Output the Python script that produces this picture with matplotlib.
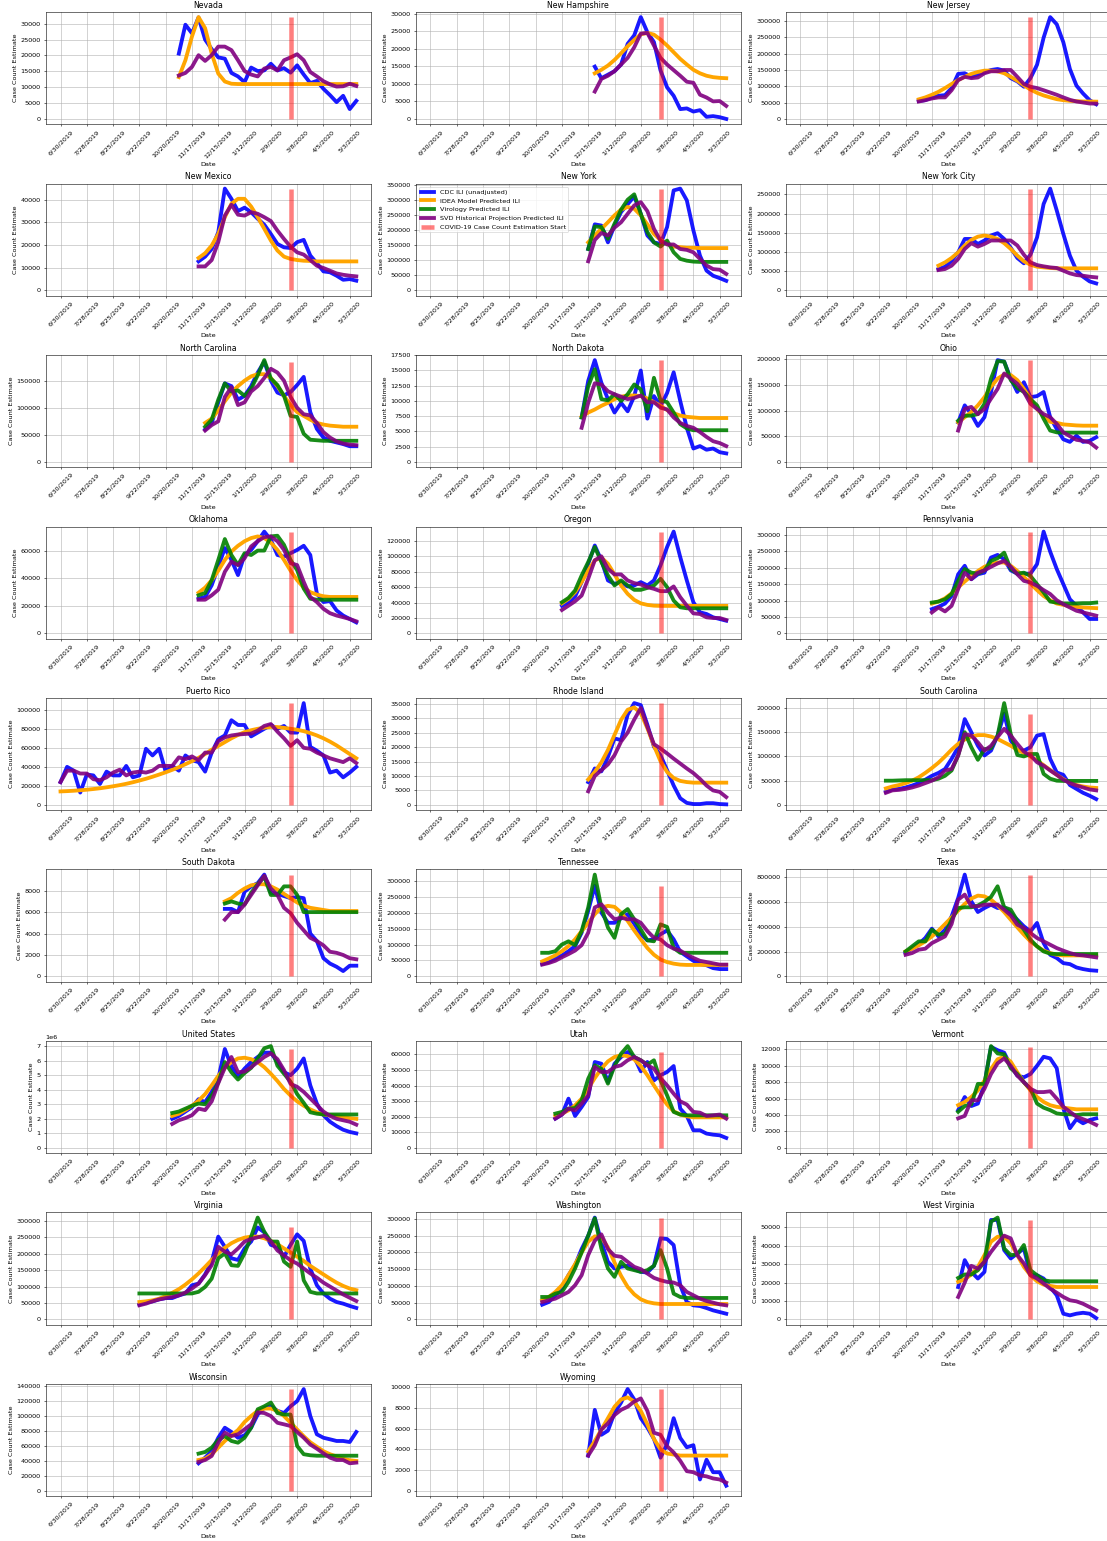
import matplotlib.pyplot as plt
import numpy as np

# weekly index: 0 = 6/30/2019 ... 45 = 5/10/2020
TICK_WEEKS = list(range(0, 45, 4))
TICK_LABELS = ['6/30/2019', '7/28/2019', '8/25/2019', '9/22/2019', '10/20/2019',
               '11/17/2019', '12/15/2019', '1/12/2020', '2/9/2020', '3/8/2020',
               '4/5/2020', '5/3/2020']
COVID_START_WEEK = 35  # 3/1/2020
LAST_WEEK = 45

STATES = ['Nevada', 'New Hampshire', 'New Jersey', 'New Mexico', 'New York',
          'New York City', 'North Carolina', 'North Dakota', 'Ohio', 'Oklahoma',
          'Oregon', 'Pennsylvania', 'Puerto Rico', 'Rhode Island', 'South Carolina',
          'South Dakota', 'Tennessee', 'Texas', 'United States', 'Utah', 'Vermont',
          'Virginia', 'Washington', 'West Virginia', 'Wisconsin', 'Wyoming']

# first week with data for each region
START = {
    'Nevada': 18, 'New Hampshire': 25, 'New Jersey': 18, 'New Mexico': 21,
    'New York': 24, 'New York City': 21, 'North Carolina': 22, 'North Dakota': 23,
    'Ohio': 24, 'Oklahoma': 21, 'Oregon': 20, 'Pennsylvania': 20, 'Puerto Rico': 0,
    'Rhode Island': 24, 'South Carolina': 13, 'South Dakota': 25, 'Tennessee': 17,
    'Texas': 16, 'United States': 17, 'Utah': 19, 'Vermont': 24, 'Virginia': 12,
    'Washington': 17, 'West Virginia': 24, 'Wisconsin': 21, 'Wyoming': 24,
}

# all values in thousands of cases
CDC = {
    'Nevada': [20.6, 29.7, 27, 32, 25, 22, 19.4, 19, 14.5, 13.4, 11.6, 16.2, 15.1, 15.3, 17.4, 15.3,
               16, 14.6, 16.9, 14, 11.3, 12, 9.5, 7.5, 5.3, 7.3, 3.1, 5.7],
    'New Hampshire': [14.9, 11.6, 12.6, 13.6, 15.5, 21.4, 23.8, 29, 24.7, 21.9, 13.8, 9, 6.6, 2.8,
                      3, 2.1, 2.5, 0.6, 0.8, 0.5, 0],
    'New Jersey': [55, 57.5, 66, 71, 73, 94.5, 138, 140, 129, 136, 143, 150, 153, 148, 125, 115,
                   98.7, 125, 166, 249, 312, 290, 235, 153, 102, 78, 57.5, 45],
    'New Mexico': [12.8, 14.9, 18.3, 25.7, 44.9, 40.4, 35, 36.5, 34.5, 31.6, 29, 24.9, 20.5, 19,
                   18.7, 21.3, 22.3, 15.4, 12, 8.4, 8, 6.5, 4.7, 5, 4.3],
    'New York': [138, 220, 216, 160, 216, 261, 287, 313, 255, 183, 160, 155, 211, 333, 339, 300,
                 200, 116, 66, 49, 41, 32],
    'New York City': [55.7, 61.8, 77.5, 99, 134, 134, 121, 130, 143, 149, 134, 111, 84.5, 70.6, 93,
                      138, 225, 265, 208, 147, 90.6, 51.4, 35.7, 23.5, 18.3],
    'North Carolina': [60, 72, 110, 145, 140, 115, 122, 140, 165, 185, 150, 128, 123, 129, 142, 157,
                       92, 61, 45, 39, 36, 33, 29, 29],
    'North Dakota': [7.3, 13.3, 16.7, 13, 10.3, 8.1, 9.7, 8.3, 10.8, 15, 7.1, 10.8, 9.2, 11.3, 14.7,
                     10, 5.6, 2.2, 2.6, 2, 2.2, 1.6, 1.4],
    'Ohio': [77, 110, 93, 70, 87, 136, 198, 195, 162, 136, 155, 126, 128, 136, 87, 64, 44, 39, 51,
             39, 41, 48],
    'Oklahoma': [25.2, 26.5, 35, 48.5, 62, 53.4, 42.4, 57, 60.7, 67, 74, 68, 57, 55.8, 58.3, 60.7,
                 63.7, 57, 29, 22.8, 23.5, 16.7, 13, 10.5, 8],
    'Oregon': [36, 40.4, 47.8, 66.5, 90.4, 114, 94.8, 68.7, 64.3, 66.5, 60.9, 62.2, 66.5, 62.2, 68.7,
               88.3, 112, 132, 99, 68.7, 40.4, 27.4, 25.2, 20.9, 18.7, 16.5],
    'Pennsylvania': [74, 81, 91, 114, 180, 206, 165, 180, 185, 231, 239, 226, 192, 182, 182, 182,
                     211, 310, 249, 196, 150, 104, 84, 64, 44, 44],
    'Puerto Rico': [24, 40, 36, 13, 32, 31, 22, 35, 31, 31, 41, 29, 31, 59, 52, 59, 35, 41, 36, 52,
                    47, 45, 35, 55, 69, 73, 89, 84, 84, 72, 76, 80, 84, 80, 83, 76, 76, 107, 61, 57,
                    52, 34, 36, 29, 34, 40],
    'Rhode Island': [7.9, 12.6, 11.6, 16.6, 23, 22.4, 31.2, 35.2, 34.5, 27.7, 20.1, 17.2, 12, 6.7,
                     2.3, 0.7, 0.3, 0.3, 0.6, 0.6, 0.3, 0.2],
    'South Carolina': [27, 32, 33, 36, 40, 45, 52, 60, 66, 74, 95, 119, 177, 150, 122, 102, 112, 143,
                       188, 133, 112, 112, 119, 143, 146, 95, 67, 62, 41, 33, 25, 19, 12],
    'South Dakota': [6.3, 6.3, 6.0, 7.9, 8.4, 8.7, 9.5, 7.8, 7.7, 7.5, 7.3, 7.4, 7.3, 4.0, 3.3, 1.7,
                     1.2, 0.9, 0.5, 1.0, 1.0],
    'Tennessee': [39, 45, 56, 66, 79, 95, 137, 205, 284, 200, 168, 168, 182, 195, 165, 132, 113, 116,
                  132, 144, 116, 77, 63, 49, 39, 35, 26, 23, 23],
    'Texas': [188, 228, 260, 309, 384, 322, 376, 483, 631, 819, 604, 518, 550, 577, 550, 556, 510,
              456, 403, 362, 430, 268, 174, 148, 107, 99, 72, 59, 50, 46],
    'United States': [2000, 2200, 2500, 2800, 3350, 3150, 3850, 4750, 6800, 5600, 4900, 5450, 5900,
                      6250, 6550, 6550, 5900, 5200, 5000, 5450, 6150, 4300, 3050, 2250, 1800, 1500,
                      1250, 1100, 1000],
    'Utah': [18.8, 21.4, 31.6, 20.5, 26.3, 32.7, 55.1, 54, 42.3, 54, 58.3, 61.5, 58.3, 49.1, 55.1,
             43.3, 46.6, 48.7, 52.5, 25.2, 20.5, 11.3, 11.3, 9.2, 8.5, 8.1, 6.4],
    'Vermont': [4.6, 6.2, 5.1, 5.4, 7.8, 12.3, 11.9, 11.6, 10, 8.8, 8.6, 9, 10, 11.1, 10.9, 9.7, 4.8,
                2.4, 3.5, 3, 3.4, 3.6],
    'Virginia': [45, 51, 55, 61, 65, 65, 73, 79, 104, 109, 137, 176, 252, 221, 186, 181, 216, 237,
                 280, 265, 227, 221, 191, 227, 259, 239, 155, 104, 79, 63, 53, 48, 41, 35],
    'Washington': [44, 52, 72, 92, 132, 162, 210, 250, 304, 232, 172, 152, 157, 160, 150, 142, 140,
                   160, 242, 240, 222, 102, 52, 42, 40, 34, 27, 22, 17],
    'West Virginia': [17.6, 32.2, 25.8, 22.2, 25.8, 54, 54, 37.6, 33.1, 35.8, 38.5, 24, 24, 22.2,
                      17.6, 13.1, 3.1, 2.2, 3.1, 3.6, 3.1, 0.7],
    'Wisconsin': [36.9, 44.4, 53.3, 71, 84.4, 78.7, 71, 74.2, 84.4, 102, 111, 113, 107, 104, 113, 120,
                  136, 100, 75.6, 71, 68.9, 66.7, 66.7, 65.3, 78.7],
    'Wyoming': [3.4, 7.8, 5.4, 5.8, 7.5, 8.5, 9.8, 8.8, 7, 6.1, 5, 3.2, 4.5, 7, 5.1, 4.2, 4.4, 1.1,
                3, 1.8, 1.8, 0.5],
}

IDEA = {
    'Nevada': [13.2, 18.5, 26, 32.1, 28.6, 20.6, 14.3, 11.8, 11.1] + [11.0] * 19,
    'New Hampshire': [13, 14, 15.2, 16.8, 18.7, 20.7, 22.5, 24.1, 24.5, 24, 22.6, 20.9, 19, 17.1,
                      15.5, 14, 13, 12.3, 11.9, 11.7, 11.6],
    'New Jersey': [60, 66, 74, 83, 94.5, 107, 119, 129, 138, 144, 148, 148, 146, 140, 129, 117, 103,
                   90, 80, 72, 66, 60.6, 57.5, 55.5, 54.5, 53.4, 53.4, 53],
    'New Mexico': [14.3, 16.4, 19.8, 24.9, 32.3, 38.2, 40.4, 40.4, 37, 32.3, 27.2, 22, 17.6, 14.9,
                   13.9, 13.4, 13.1, 13] + [12.8] * 7,
    'New York': [160, 183, 205, 227, 250, 269, 278, 272, 250, 220, 188, 168, 155, 146, 144, 142,
                 142] + [141] * 5,
    'New York City': [64.5, 73, 84.5, 99, 117, 131.5, 140, 143, 140, 134, 123, 108, 90.6, 75.8, 67,
                      61.8, 60, 58.4] + [57.5] * 7,
    'North Carolina': [72, 80, 95, 112, 128, 140, 150, 158, 162, 162, 155, 140, 122, 105, 92, 85, 78,
                       72, 69, 67, 66, 65, 65, 65],
    'North Dakota': [7.4, 8.1, 8.6, 9.2, 9.7, 10.3, 10.7, 10.9, 10.9, 10.8, 10.4, 9.8, 9.2, 8.5, 8,
                     7.6, 7.4, 7.3] + [7.2] * 5,
    'Ohio': [77, 87, 97, 110, 126, 146, 162, 170, 169, 159, 142, 123, 103, 89, 78, 76, 73, 72, 71,
             70.5, 70.5, 70.5],
    'Oklahoma': [29.6, 33.3, 38.7, 45.6, 53.4, 59.5, 63.7, 67, 69.3, 70.5, 69.3, 66, 60.7, 53.4, 45.6,
                 38.7, 33.3, 30, 28.2, 27] + [26.5] * 5,
    'Oregon': [39, 44.8, 53.5, 66.5, 81.7, 94.8, 98.3, 90.4, 76.5, 62.2, 51.3, 43.5, 39, 37,
               36] + [35.7] * 11,
    'Pennsylvania': [91, 97, 107, 122, 140, 158, 175, 190, 203, 211, 216, 216, 206, 190, 172, 152,
                     132, 114, 101, 91, 87, 83, 81, 79, 78, 77],
    'Puerto Rico': [14.2, 14.5, 14.9, 15.4, 16, 16.7, 17.5, 18.5, 19.6, 20.8, 22.2, 23.8, 25.6, 27.5,
                    29.6, 31.9, 34.3, 36.9, 39.6, 42.8, 46, 49.5, 53.5, 58, 62, 66, 70, 73.5, 76.5,
                    78.5, 80, 81.2, 82, 81.8, 81, 80, 79, 77.5, 75.5, 73, 70, 66.5, 62.5, 58, 53.5,
                    49],
    'Rhode Island': [8.8, 11.4, 14.7, 19, 24.2, 29.4, 32.9, 33.7, 31.7, 26.5, 20.5, 15.1, 11.4, 9.3,
                     8.3, 7.9] + [7.7] * 6,
    'South Carolina': [34, 38, 41, 45, 50, 57, 66, 76, 87, 100, 114, 126, 135, 141, 144, 144, 141,
                       136, 129, 122, 114, 107, 100, 92, 82, 72, 62, 53, 46, 41, 38, 36, 35],
    'South Dakota': [7, 7.3, 7.8, 8.2, 8.5, 8.6, 8.6, 8.4, 8.1, 7.7, 7.3, 6.9, 6.6, 6.4, 6.3,
                     6.2] + [6.1] * 5,
    'Tennessee': [47, 56, 66, 79, 95, 116, 142, 168, 195, 216, 221, 218, 200, 174, 144, 116, 89, 68,
                  53, 45, 40, 37] + [36] * 7,
    'Texas': [201, 223, 250, 282, 322, 368, 421, 475, 529, 583, 626, 650, 644, 617, 572, 518, 456,
              395, 336, 282, 242, 207, 188, 174] + [169] * 6,
    'United States': [2200, 2350, 2600, 2900, 3250, 3700, 4300, 4950, 5500, 5900, 6150, 6200, 6100,
                      5900, 5550, 5100, 4600, 4050, 3600, 3200, 2900, 2650, 2450, 2300, 2250, 2200,
                      2100, 2050, 2000],
    'Utah': [20.5, 22, 24.1, 27.3, 31.6, 38, 44.8, 50.8, 55.5, 58.3, 59.4, 58.9, 56.8, 52.5, 46.6,
             40.1, 33.7, 27.8, 23.5, 21.4, 20.3] + [19.6] * 6,
    'Vermont': [5.2, 5.6, 6.2, 7, 8.2, 9.6, 10.8, 11.1, 10.5, 9.2, 8, 7, 6.2, 5.6, 5.2, 5, 4.9, 4.8,
                4.7, 4.7, 4.7, 4.7],
    'Virginia': [53, 55, 58, 63, 71, 81, 92, 106, 122, 140, 160, 181, 201, 218, 232, 242, 249, 252,
                 252, 247, 239, 229, 216, 204, 191, 178, 163, 150, 137, 124, 112, 102, 94, 89],
    'Washington': [57, 67, 82, 102, 132, 165, 200, 232, 248, 245, 215, 170, 130, 97, 75, 60, 52,
                   48] + [46] * 11,
    'West Virginia': [20.4, 21.8, 24.4, 28.5, 34.9, 42.2, 44.9, 44.9, 41.3, 34.9, 28.5, 24, 20.7,
                      18.9, 18.2] + [17.6] * 7,
    'Wisconsin': [41.3, 43.1, 48.9, 57.8, 66.7, 74.2, 81.3, 92, 100, 107, 110, 110, 107, 100, 91, 82,
                  73, 65, 59, 53, 49, 46, 43, 41, 40],
    'Wyoming': [3.8, 4.8, 5.9, 7, 8.1, 8.8, 9, 8.6, 7.7, 6.4, 5, 4, 3.6, 3.5] + [3.4] * 8,
}

VIROLOGY = {
    'New York': [138, 213, 211, 172, 222, 269, 302, 320, 255, 194, 160, 146, 166, 127, 105, 99,
                 96] + [95] * 5,
    'North Carolina': [65, 78, 115, 145, 130, 132, 122, 135, 160, 188, 154, 142, 122, 85, 83, 52,
                       41, 40] + [39] * 6,
    'North Dakota': [7.3, 12.4, 15.2, 10.3, 10.1, 11.1, 10, 11.1, 12.7, 11.9, 8.3, 13.8, 10.1, 9.8,
                     8.1, 6.2, 5.5] + [5.2] * 6,
    'Ohio': [80, 90, 90, 93, 113, 162, 196, 195, 159, 144, 136, 122, 110, 84, 61, 57.5] + [57] * 6,
    'Oklahoma': [27.7, 29.4, 38.7, 53.4, 68.6, 57, 49.7, 58.3, 57, 60.2, 60.2, 70.5, 71, 64.4, 53.4,
                 46, 32.6, 25.2] + [24.5] * 7,
    'Oregon': [40.4, 46, 55.7, 75.2, 92.6, 112, 92.6, 75.2, 62.2, 68.7, 62.2, 56.5, 56.5, 59, 62.2,
               70.9, 60, 42.6, 33.9] + [32.6] * 7,
    'Pennsylvania': [94, 97, 104, 120, 160, 196, 185, 182, 192, 221, 229, 246, 196, 182, 185, 175,
                     150, 125, 97, 94, 91, 91, 91, 92, 92, 94],
    'South Carolina': [50, 50, 50.5, 51, 51, 51, 51, 51, 54, 60, 71, 102, 150, 119, 93, 115, 117,
                       143, 210, 146, 103, 100, 105, 105, 64, 54, 50] + [49.5] * 6,
    'South Dakota': [6.8, 7, 6.8, 6.7, 7.8, 8.6, 9.3, 7.6, 7.6, 8.4, 8.4, 7.6, 6, 6] + [6] * 7,
    'Tennessee': [74, 74, 79, 100, 110, 98, 142, 216, 319, 216, 153, 121, 195, 211, 179, 147, 113,
                  110, 163, 155, 89, 74] + [74] * 7,
    'Texas': [201, 242, 282, 282, 376, 336, 341, 456, 550, 556, 556, 570, 600, 640, 725, 556, 537,
              448, 376, 295, 242, 201, 183] + [180] * 7,
    'United States': [2400, 2500, 2700, 2900, 3050, 3000, 3600, 4500, 5900, 5200, 4700, 5150, 5500,
                      6150, 6850, 7000, 5650, 5100, 4550, 3700, 3100, 2450, 2350] + [2300] * 6,
    'Utah': [22, 23.1, 25.2, 25.6, 30.5, 44.4, 53, 50.8, 41.2, 52.5, 60.4, 65.3, 58.3, 56.2, 53.4,
             56.2, 43.3, 33.7, 23.1, 21.4] + [20.9] * 7,
    'Vermont': [4.4, 5.1, 5.3, 7.8, 7.8, 12.4, 11.5, 11.4, 9.7, 9, 8, 7.2, 5.4, 4.9, 4.6, 4.2, 4.1,
                4.1, 4, 4.1, 4.1, 4.1],
    'Virginia': [79] * 9 + [84, 99, 124, 186, 201, 165, 163, 201, 252, 310, 267, 237, 237, 176, 160,
                            237, 119, 84] + [79] * 7,
    'Washington': [67, 67, 77, 82, 112, 152, 200, 250, 302, 212, 152, 127, 172, 152, 147, 142, 147,
                   160, 207, 152, 77, 67] + [64] * 7,
    'West Virginia': [22.5, 24.4, 24.4, 26.7, 31.3, 53.1, 55.3, 38.5, 34.9, 35.3, 40.4, 26.7, 24,
                      21.3] + [20.7] * 8,
    'Wisconsin': [49.8, 52, 57.8, 68, 73.3, 66.7, 64.4, 71, 84.4, 109, 113, 118, 104, 102, 102, 60,
                  49, 47.6] + [47] * 7,
}

SVD = {
    'Nevada': [13.7, 14.5, 16.4, 20.1, 18.3, 20.1, 22.8, 22.8, 21.7, 18.5, 15.1, 14, 13.4, 15.9, 16.4,
               15.3, 18.5, 19.4, 20.4, 18.5, 14.8, 13.4, 11.9, 10.9, 10.2, 10.3, 11.1, 10.4],
    'New Hampshire': [7.8, 11.4, 12.3, 13.6, 15.5, 17.4, 20.4, 24.3, 24.5, 20.9, 17.4, 15.5, 13.9,
                      12.3, 10.6, 10.3, 6.9, 6.1, 5, 5.1, 3.7],
    'New Jersey': [53.4, 57.5, 62.7, 66, 66, 88, 119, 129, 125, 127, 140, 146, 146, 150, 150, 129,
                   107, 98.7, 94.5, 88, 81, 74, 66, 58.6, 53.4, 50.4, 47.3, 47],
    'New Mexico': [10.6, 10.6, 13.4, 21.3, 33, 37.8, 33.4, 33, 34.5, 33.8, 32.3, 30.6, 26.4, 22.7,
                   19.3, 16.8, 15.8, 13.4, 10.9, 9.9, 8.7, 7.5, 6.9, 6.5, 6.2],
    'New York': [97, 168, 191, 183, 209, 227, 255, 283, 294, 264, 205, 166, 153, 153, 138, 135, 127,
                 105, 83, 71, 69, 55],
    'New York City': [53, 55.7, 64.5, 82, 108, 123, 114, 121, 130, 130, 130, 130, 117, 93, 73, 66,
                      62.7, 60, 58.4, 51.4, 44.4, 40, 38.3, 35.7, 34],
    'North Carolina': [58, 68, 75, 120, 138, 105, 110, 130, 140, 155, 172, 165, 150, 120, 100, 88,
                       86, 72, 55, 45, 38, 34, 32, 31],
    'North Dakota': [5.6, 9.7, 12.9, 12.7, 11.6, 11.1, 10.7, 10.3, 10.5, 10.9, 9.8, 9.8, 8.9, 8.6,
                     7.3, 6.4, 5.9, 5.6, 4.9, 4.1, 3.4, 3.1, 2.6],
    'Ohio': [61, 103, 107, 93, 103, 123, 142, 172, 162, 152, 136, 113, 103, 93, 87, 74, 57.5, 50, 43,
             41, 38, 28],
    'Oklahoma': [24.5, 24.5, 27.7, 31.8, 44.8, 52.2, 49.7, 54.6, 63.2, 67, 70, 70.5, 67, 60.7, 51,
                 49.7, 37.5, 26.5, 22.8, 17.9, 14.7, 13, 11.8, 10.5, 8.8],
    'Oregon': [30.4, 36, 41.7, 49.1, 70.9, 94.8, 100, 83.9, 76.5, 76.5, 68.7, 65.2, 63.5, 60, 57.8,
               54.8, 54.8, 60.9, 47, 36, 26, 25.2, 20.9, 20, 20, 17.4],
    'Pennsylvania': [64, 79, 67, 84, 135, 185, 165, 185, 192, 203, 213, 221, 203, 180, 160, 155, 145,
                     132, 120, 101, 89, 79, 69, 64, 59, 54],
    'Puerto Rico': [24, 36, 36, 33, 33, 27, 26, 29, 34, 37, 31, 34, 35, 34, 36, 41, 41, 41, 50, 48,
                    51, 47, 55, 55, 67, 71, 73, 74, 74.5, 75, 78, 83, 85, 77, 70, 62, 68, 60, 59, 55,
                    52, 49, 47, 45, 49, 44],
    'Rhode Island': [4.7, 10, 12, 14, 17.2, 21.9, 25, 29.5, 33.5, 27, 21, 19.5, 17.8, 16, 14.3, 12.6,
                     11, 9, 6.7, 5, 4.5, 2.7],
    'South Carolina': [25, 30, 31, 33, 36, 40, 45, 50, 57, 71, 74, 102, 146, 143, 129, 112, 122, 140,
                       157, 143, 126, 110, 102, 88, 81, 71, 62, 52, 45, 40, 36, 32, 30],
    'South Dakota': [5.3, 6, 6, 6.7, 7.6, 8.5, 9.4, 8.2, 7.6, 6.4, 5.9, 5, 4.3, 3.6, 3.3, 2.9, 2.3,
                     2.2, 2, 1.7, 1.6],
    'Tennessee': [37, 42, 49, 60, 70, 81, 98, 137, 216, 226, 200, 179, 184, 179, 179, 168, 142, 121,
                  116, 98, 87, 81, 68, 58, 49, 45, 41, 37, 37],
    'Texas': [174, 188, 215, 223, 268, 295, 322, 421, 617, 658, 564, 564, 577, 577, 577, 537, 491,
              416, 389, 349, 309, 282, 255, 228, 207, 188, 174, 169, 161, 153],
    'United States': [1650, 1900, 2050, 2250, 2700, 2600, 3200, 4450, 5500, 6250, 5200, 5250, 5550,
                      5900, 6250, 6500, 6100, 5350, 4400, 4200, 3850, 3400, 2950, 2500, 2200, 2000,
                      1900, 1800, 1600],
    'Utah': [18.8, 21.4, 25.2, 24.1, 28.4, 33.7, 51.9, 48.7, 48.7, 51.9, 53, 56.2, 58.3, 56.2, 53,
             50.8, 44.8, 40.1, 34.8, 29.9, 27.8, 23.1, 22.6, 20.5, 20.9, 21.4, 18.8],
    'Vermont': [3.6, 3.9, 5.8, 5.8, 7.2, 9, 10.3, 10.9, 10, 8.8, 8, 7.2, 6.8, 6.8, 6.9, 6, 5, 4.4,
                3.8, 3.5, 3.2, 2.8],
    'Virginia': [43, 48, 55, 61, 65, 68, 73, 82, 94, 109, 135, 165, 221, 206, 198, 216, 237, 245, 250,
                 255, 237, 210, 195, 180, 170, 155, 140, 127, 112, 100, 88, 76, 66, 56],
    'Washington': [52, 57, 62, 72, 82, 102, 132, 192, 235, 254, 210, 190, 187, 172, 157, 150, 137,
                   124, 117, 112, 110, 102, 82, 72, 62, 55, 50, 45, 42],
    'West Virginia': [12.2, 20, 29.1, 27.6, 31.3, 36.7, 41.3, 45.5, 44, 34.9, 30.4, 24, 22.2, 19.5,
                      16.7, 14.5, 12.2, 10.4, 9.8, 8.5, 6.7, 4.9],
    'Wisconsin': [38.7, 41.3, 46.7, 64.4, 77.8, 73.3, 75.6, 82.2, 88.9, 105, 104, 100, 91, 88.9, 86.7,
                  78.7, 71, 62, 56.4, 50.2, 44.4, 41.3, 41.3, 36.9, 37.8],
    'Wyoming': [3.4, 4.4, 5.9, 6.5, 7.3, 7.8, 8.1, 8.6, 8.9, 7.7, 5.6, 5.4, 4.3, 3.7, 2.9, 1.9, 1.8,
                1.5, 1.4, 1.2, 1.1, 0.8],
}

LW = 5.5
plt.rcParams['font.size'] = 9.3

fig, axes = plt.subplots(9, 3, figsize=(1107 / 50, 1541 / 50), dpi=50)
fig.subplots_adjust(left=0.0413, right=1.0036, top=0.9922, bottom=0.0292,
                    wspace=0.137, hspace=0.531)
axes = axes.ravel()

for ax, state in zip(axes, STATES):
    weeks = np.arange(START[state], LAST_WEEK + 1)
    cdc = np.array(CDC[state]) * 1000
    ax.plot(weeks, cdc, color='blue', lw=LW, alpha=0.9, label='CDC ILI (unadjusted)')
    ax.plot(weeks, np.array(IDEA[state]) * 1000, color='orange', lw=LW,
            label='IDEA Model Predicted ILI')
    if state in VIROLOGY:
        ax.plot(weeks, np.array(VIROLOGY[state]) * 1000, color='green', lw=LW, alpha=0.9,
                label='Virology Predicted ILI')
    ax.plot(weeks, np.array(SVD[state]) * 1000, color='purple', lw=LW, alpha=0.9,
            label='SVD Historical Projection Predicted ILI')
    ax.vlines(COVID_START_WEEK, 0, cdc.max(), colors='red', lw=6.5, alpha=0.5,
              label='COVID-19 Case Count Estimation Start')

    ax.set_xlim(-2.25, LAST_WEEK + 2.25)
    ax.set_xticks(TICK_WEEKS)
    ax.set_xticklabels(TICK_LABELS, rotation=45)
    ax.set_title(state)
    ax.set_xlabel('Date')
    ax.set_ylabel('Case Count Estimate')
    ax.grid(True)
    if state == 'New York':
        ax.legend(loc='upper left')

for ax in axes[len(STATES):]:
    ax.remove()

fig.savefig('out.png', dpi=50)
